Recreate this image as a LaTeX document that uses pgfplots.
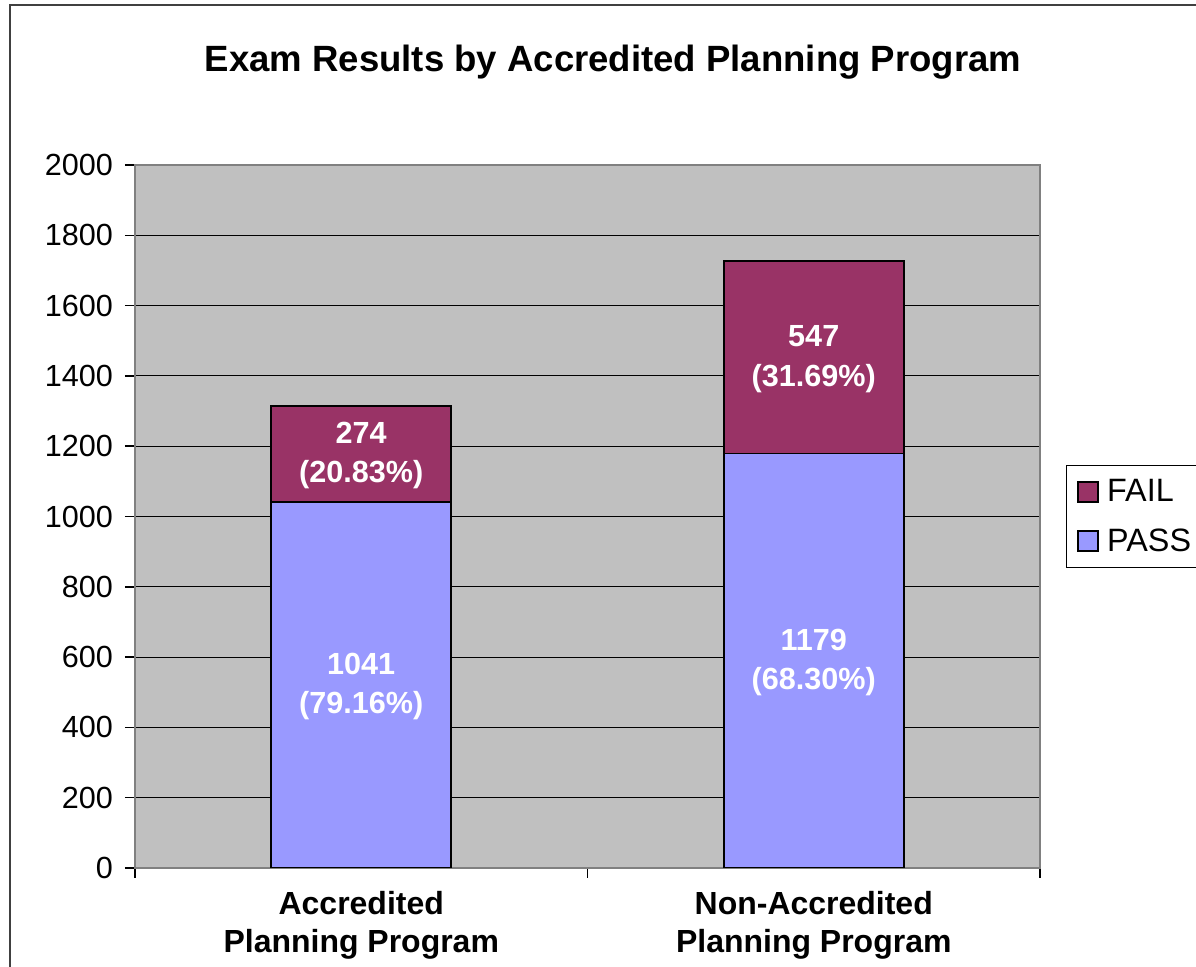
\documentclass[border=0pt]{standalone}
\usepackage{fontspec}
\setmainfont{Liberation Sans}
\usepackage{pgfplots}
\usepackage{pgfplotstable}
\pgfplotsset{compat=1.18}

\definecolor{passc}{HTML}{9999FF}
\definecolor{failc}{HTML}{993366}
\definecolor{plotbg}{HTML}{C0C0C0}
\definecolor{areaframe}{HTML}{808080}

% exam results, counts and shares
\pgfplotstableread{
x pass fail
0 1041 274
1 1179 547
}\results
% label positions: middle of each segment
\pgfplotstableread{
x ymid count pct
0 520.5 1041 79.16
1 589.5 1179 68.30
0 1178 274 20.83
1 1452.5 547 31.69
}\labels

\pgfplotsset{
  sqlegend/.style={legend image code/.code={
    \draw[##1, draw=black, line width=0.04cm] (0cm,-0.2cm) rectangle (0.4cm,0.2cm);}},
  samebox/.style={at={(2.7cm,1.98cm)}, anchor=south west,
    scale only axis, width=18.1cm, height=14.06cm,
    xmin=-0.5, xmax=1.5, ymin=0, ymax=2000},
  seglabel/.style={draw=none, mark=none, point meta=explicit symbolic,
    nodes near coords,
    every node near coord/.append style={anchor=center, white,
      font=\fontsize{17.4}{20}\selectfont\bfseries}},
}

\begin{document}
\begin{tikzpicture}
\clip (0,0) rectangle (23.92cm,19.34cm);
\fill[white] (0,0) rectangle (23.92cm,19.34cm);
\draw[line width=0.04cm, color=black!75] (0.2cm,-1cm) rectangle (30cm,19.24cm);
\node[font=\fontsize{20.8}{24}\selectfont\bfseries, anchor=base] at (12.26cm,17.9cm)
  {Exam Results by Accredited Planning Program};
\begin{axis}[
  samebox,
  ybar stacked, bar width=3.6cm,
  axis background/.style={fill=plotbg},
  axis line style={areaframe, line width=0.03cm},
  ytick={0,200,...,2000},
  xtick={0,1},
  xticklabels={{Accredited\\Planning Program},{Non-Accredited\\Planning Program}},
  minor xtick={-0.5,0.5,1.5},
  major x tick style={draw=none},
  minor tick length=0.2cm, major tick length=0.2cm,
  tick align=outside, tick pos=left,
  tick style={black, line width=0.03cm},
  ymajorgrids, major grid style={black, line width=0.02cm},
  /pgf/number format/assume math mode=true,
  /pgf/number format/1000 sep={},
  yticklabel style={font=\fontsize{17.4}{20}\selectfont, xshift=-0.12cm},
  x tick label style={align=center, font=\fontsize{18.2}{21.6}\selectfont\bfseries, yshift=-0.14cm},
  legend style={at={(1.0287,0.5733)}, anchor=north west, draw=black,
    line width=0.03cm, fill=white, font=\fontsize{18.4}{20}\selectfont,
    inner xsep=0.2cm, inner ysep=0.2cm, row sep=0.35cm,
    /tikz/every odd column/.append style={column sep=0.1cm}},
  legend cell align=left,
  reverse legend,
]
\addplot[fill=passc, draw=black, line width=0.035cm, sqlegend]
  table[x=x, y=pass] {\results};
\addplot[fill=failc, draw=black, line width=0.035cm, sqlegend]
  table[x=x, y=fail] {\results};
\legend{PASS\hspace*{1cm},FAIL}
\end{axis}
\begin{axis}[samebox, hide axis]
\addplot[seglabel, every node near coord/.append style={yshift=0.42cm}]
  table[x=x, y=ymid, meta=count] {\labels};
\addplot[seglabel, nodes near coords={(\pgfplotspointmeta\%)},
  every node near coord/.append style={yshift=-0.42cm}]
  table[x=x, y=ymid, meta=pct] {\labels};
\end{axis}
\end{tikzpicture}
\end{document}
